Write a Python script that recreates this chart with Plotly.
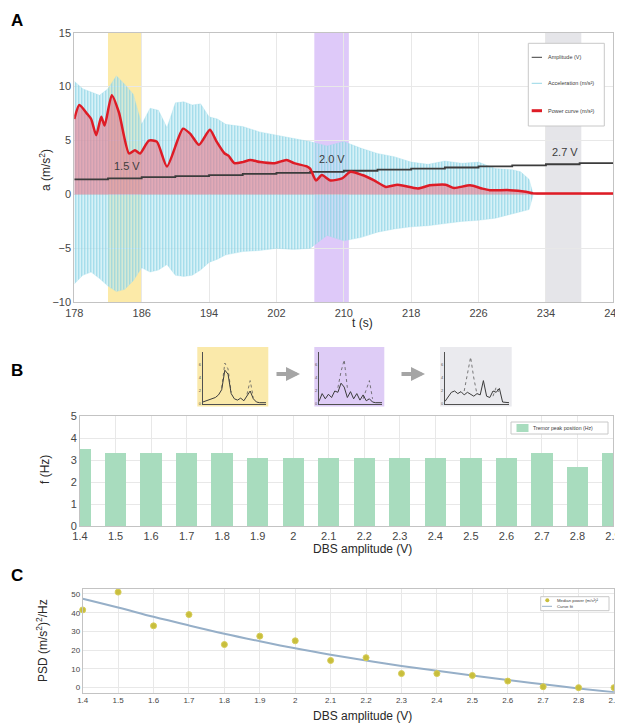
import plotly.graph_objects as go

# ---------------- Panel A data ----------------
pw_t = [178, 178.6, 179.5, 180, 180.6, 181.2, 181.6, 182.45, 183.3, 184.5, 185.2, 185.8, 186.85, 187.8, 189,
        190.9, 191.8, 192.8, 194.1, 194.9, 195.85, 196.3, 197, 198, 198.9, 200.1, 201.8, 203.2, 204.1, 205.6,
        206, 206.7, 207.4, 208.4, 209.8, 210.8, 212.2, 213.6, 215, 216.4, 218.8, 220.2, 222.1, 223.1, 225,
        226.4, 227.3, 229.7, 231.6, 232.5, 234, 242]
pw_v = [7.0, 8.3, 7.5, 7.0, 5.5, 7.2, 6.4, 9.2, 7.6, 3.8, 4.1, 3.8, 5.0, 4.9, 2.6, 6.1, 5.6, 4.6, 6.0, 4.9,
        3.8, 3.6, 2.9, 3.0, 3.2, 3.0, 2.9, 3.2, 2.9, 2.6, 2.4, 1.3, 1.8, 1.3, 1.5, 2.1, 1.8, 1.3, 0.7, 0.9,
        0.55, 0.85, 0.9, 0.6, 0.85, 0.55, 0.4, 0.4, 0.25, 0.1, 0.1, 0.1]

acc_t = [178, 179, 180, 181, 182, 183, 184, 185, 186, 187, 188, 189, 190, 191, 192, 193, 194, 195, 196,
         198, 200, 202, 204, 206, 208, 210, 212, 214, 216, 218, 220, 222, 224, 226, 228, 230, 231, 232, 232.5]
acc_upper = [10.5, 9.8, 9.5, 9.2, 9.8, 11.0, 10.2, 9.3, 6.5, 8.0, 7.8, 6.2, 8.5, 8.6, 8.3, 8.4, 7.2, 7.0, 6.5,
             6.3, 5.8, 5.5, 5.2, 4.9, 4.5, 4.9, 4.3, 3.8, 3.5, 3.0, 2.8, 3.1, 2.9, 3.0, 2.4, 2.3, 2.1, 1.4, 0]
acc_lower = [-8.3, -7.5, -7.2, -7.8, -8.5, -9.0, -8.8, -8.0, -6.8, -7.2, -7.0, -6.5, -7.5, -7.6, -7.5, -7.0, -6.3, -6.0, -5.6,
             -5.3, -5.2, -5.0, -5.1, -5.0, -3.8, -4.3, -4.0, -3.5, -3.2, -3.0, -2.9, -2.7, -2.5, -2.4, -2.2, -1.8, -1.6, -1.4, 0]

amp_t = [178, 182, 186, 190, 194, 198, 202, 206, 210, 214, 218, 222, 226, 230, 234, 238, 242]
amp_v = [1.4, 1.5, 1.6, 1.7, 1.8, 1.9, 2.0, 2.1, 2.2, 2.3, 2.4, 2.5, 2.6, 2.7, 2.8, 2.9, 2.9]

band_start = [182, 206.5, 234]
band_end = [186, 210.6, 238.2]
band_labels = ["1.5 V", "2.0 V", "2.7 V"]
band_label_t = [184.3, 208.6, 236.3]
band_label_y = [2.6, 3.3, 3.9]

# ---------------- Panel B / C data ----------------
dbs = [1.4, 1.5, 1.6, 1.7, 1.8, 1.9, 2.0, 2.1, 2.2, 2.3, 2.4, 2.5, 2.6, 2.7, 2.8, 2.9]
peak_f = [3.5, 3.3, 3.3, 3.3, 3.3, 3.1, 3.1, 3.1, 3.1, 3.1, 3.1, 3.1, 3.1, 3.3, 2.7, 3.3]
median_power = [41.5, 51, 33, 39, 23, 27.5, 25, 14.5, 16, 7.5, 7.5, 6.5, 3.5, 0.5, 0, 0]
curve_fit = [47.5, 42.8, 37.8, 33.2, 28.8, 24.8, 21.0, 17.6, 14.5, 11.6, 9.0, 6.5, 4.1, 1.8, -0.4, -2.4]

# inset spectra
ins_f = [0, 0.5, 1, 1.5, 2, 2.5, 3, 3.5, 4, 4.5, 5, 5.5, 6, 6.5, 7, 7.5, 8, 8.5, 9, 9.5, 10]
ins1_solid = [0.3, 0.5, 0.6, 0.9, 1.0, 1.4, 2.2, 5.2, 4.6, 1.6, 0.8, 0.6, 0.9, 0.5, 1.2, 2.0, 0.8, 0.3, 0.2, 0.2, 0.2]
ins1_dash = [None, None, None, None, None, None, 2.5, 6.3, 5.4, 1.8, None, None, None, None, 1.5, 3.6, 1.0, None, None, None, None]
ins2_solid = [0.4, 1.6, 0.8, 1.5, 1.0, 2.0, 1.8, 3.2, 2.6, 1.0, 1.9, 0.8, 1.6, 0.6, 1.4, 0.5, 0.8, 0.3, 0.2, 0.2, 0.2]
ins2_dash = [None, None, None, None, None, None, 2.5, 5.0, 6.8, 2.5, None, None, None, None, 0.8, 2.2, 3.6, 0.8, None, None, None]
ins3_solid = [0.4, 1.2, 1.8, 2.0, 1.6, 1.9, 1.4, 1.8, 1.5, 1.2, 1.6, 1.4, 3.6, 1.2, 1.0, 2.0, 1.8, 2.4, 0.3, 0.2, 0.2]
ins3_dash = [None, None, None, None, None, None, 2.0, 4.5, 7.2, 4.0, 1.5, None, None, None, None, 1.2, 2.6, 1.6, None, None, None]
ins_bg = ["rgb(250,233,170)", "rgb(222,204,246)", "rgb(234,234,238)"]

# legend labels
legA_labels = ["Amplitude (V)", "Acceleration (m/s²)", "Power curve (m/s²)"]
legB_label = "Tremor peak position (Hz)"
legC_labels = ["Median power (m/s²)²", "Curve fit"]

# the page body has an 8px margin: lay out in window pixels and convert
OFF = 8
W, H = 623 - OFF, 725 - OFF
def px(x): return (x - OFF) / W
def py(y): return 1 - (y - OFF) / H

FONT = "Liberation Sans, Arial, sans-serif"
TICKC = "rgb(70,70,70)"
GRID = "rgb(232,232,232)"
LINEC = "rgb(195,195,195)"
AMPC = "rgb(60,60,60)"
ACCC = "rgb(150,215,230)"
REDC = "rgb(222,28,38)"
BARC = "rgb(168,220,190)"
DOTC = "rgb(200,190,60)"
FITC = "rgb(150,175,200)"

fig = go.Figure()

# Panel A traces
acc_x = acc_t + acc_t[::-1]
acc_y = acc_upper + acc_lower[::-1]
fig.add_trace(go.Scatter(
    x=acc_x, y=acc_y, mode="lines", fill="toself",
    fillcolor="rgba(170,225,238,0.7)",
    fillpattern=dict(shape="|", fgcolor="rgba(125,205,225,0.8)", bgcolor="rgba(205,239,246,0.55)",
                     size=3, solidity=0.45),
    line=dict(color="rgba(160,222,236,0.6)", width=0.5),
    showlegend=False, xaxis="x", yaxis="y"))
fig.add_trace(go.Scatter(
    x=pw_t, y=pw_v, mode="lines", fill="tozeroy", fillcolor="rgba(236,110,130,0.55)",
    line=dict(color=REDC, width=0.1, shape="spline", smoothing=0.6),
    showlegend=False, xaxis="x", yaxis="y"))
fig.add_trace(go.Scatter(
    x=amp_t, y=amp_v, mode="lines", line=dict(color=AMPC, width=1.8, shape="hv"),
    showlegend=False, xaxis="x", yaxis="y"))
fig.add_trace(go.Scatter(
    x=pw_t, y=pw_v, mode="lines",
    line=dict(color=REDC, width=2.5, shape="spline", smoothing=0.6),
    showlegend=False, xaxis="x", yaxis="y"))

# Panel B
fig.add_trace(go.Bar(
    x=dbs, y=peak_f, width=0.06, marker=dict(color=BARC, line=dict(width=0)),
    showlegend=False, xaxis="x2", yaxis="y2"))

# Panel C
fig.add_trace(go.Scatter(
    x=dbs, y=curve_fit, mode="lines", line=dict(color=FITC, width=2, shape="spline"),
    showlegend=False, xaxis="x3", yaxis="y3"))
fig.add_trace(go.Scatter(
    x=dbs, y=median_power, mode="markers",
    marker=dict(color=DOTC, size=6, line=dict(color="rgb(215,205,90)", width=1)),
    showlegend=False, xaxis="x3", yaxis="y3", cliponaxis=False))

# insets
for i, (s, d) in enumerate([(ins1_solid, ins1_dash), (ins2_solid, ins2_dash), (ins3_solid, ins3_dash)]):
    xa, ya = f"x{4+i}", f"y{4+i}"
    fig.add_trace(go.Scatter(x=ins_f, y=d, mode="lines", line=dict(color="rgb(90,90,90)", width=0.8, dash="dot"),
                             showlegend=False, xaxis=xa, yaxis=ya, connectgaps=False))
    fig.add_trace(go.Scatter(x=ins_f, y=s, mode="lines", line=dict(color="rgb(60,60,60)", width=1),
                             showlegend=False, xaxis=xa, yaxis=ya))

shapes = []
band_cols = ["rgba(250,220,110,0.6)", "rgba(200,165,245,0.6)", "rgba(220,220,226,0.75)"]
for s0, s1, c in zip(band_start, band_end, band_cols):
    shapes.append(dict(type="rect", xref="x", yref="paper", x0=s0, x1=s1,
                       y0=py(302.3), y1=py(32.7), fillcolor=c, line=dict(width=0), layer="between"))
inset_boxes = [(197.3, 268.3), (314.3, 384.3), (440, 511.7)]
for (x0, x1), c in zip(inset_boxes, ins_bg):
    shapes.append(dict(type="rect", xref="paper", yref="paper", x0=px(x0), x1=px(x1),
                       y0=py(406.5), y1=py(347), fillcolor=c, line=dict(width=0), layer="below"))

annotations = []
LEGC = "rgb(60,60,60)"
def box(x0, x1, y0, y1):
    shapes.append(dict(type="rect", xref="paper", yref="paper", x0=px(x0), x1=px(x1), y0=py(y1), y1=py(y0),
                       fillcolor="white", line=dict(color="rgb(200,200,200)", width=1), layer="above"))
def hline(x0, x1, y, color, width):
    shapes.append(dict(type="line", xref="paper", yref="paper", x0=px(x0), x1=px(x1), y0=py(y), y1=py(y),
                       line=dict(color=color, width=width), layer="above"))
def ltext(x, y, text, size):
    annotations.append(dict(x=px(x), y=py(y), xref="paper", yref="paper", text=text, showarrow=False,
                            xanchor="left", yanchor="middle", font=dict(size=size, color=LEGC, family=FONT)))

# legend A
box(528.3, 604.3, 43.3, 126)
legA_y = [57.3, 83.3, 110.7]
legA_col = [AMPC, ACCC, REDC]
legA_w = [1, 1, 3]
for lab, yy, c, w in zip(legA_labels, legA_y, legA_col, legA_w):
    hline(531.7, 542, yy, c, w)
    ltext(546, yy, lab, 5.5)
# legend B
box(511, 608, 422, 434)
shapes.append(dict(type="rect", xref="paper", yref="paper", x0=px(516.5), x1=px(528.5), y0=py(432), y1=py(424),
                   fillcolor=BARC, line=dict(width=0), layer="above"))
ltext(530.5, 428, legB_label, 5.2)
# legend C
box(540.7, 609, 596.7, 610.7)
shapes.append(dict(type="circle", xref="paper", yref="paper", x0=px(545.3), x1=px(549.3), y0=py(602.3), y1=py(598.3),
                   fillcolor=DOTC, line=dict(width=0), layer="above"))
hline(542, 552, 606.3, FITC, 1)
ltext(555, 600.3, legC_labels[0], 4.3)
ltext(555, 606.3, legC_labels[1], 4.3)

for lab, t, yv in zip(band_labels, band_label_t, band_label_y):
    annotations.append(dict(x=t, y=yv, xref="x", yref="y", text=lab, showarrow=False,
                            font=dict(size=11, color="rgb(60,60,60)", family=FONT)))
for lab, yy in [("A", 20), ("B", 370), ("C", 575)]:
    annotations.append(dict(x=px(17), y=py(yy), xref="paper", yref="paper", text=f"<b>{lab}</b>",
                            showarrow=False, xanchor="center", yanchor="middle",
                            font=dict(size=17, color="black", family=FONT)))
for xa in [300, 425]:
    annotations.append(dict(x=px(xa), y=py(374), xref="paper", yref="paper", ax=-25, ay=0,
                            text="", showarrow=True, arrowhead=2,
                            arrowsize=0.7, arrowwidth=4, arrowcolor="rgb(165,165,165)"))

# axis titles
TITC = "rgb(40,40,40)"
def title(x, y, text, angle=0, size=12):
    annotations.append(dict(x=px(x), y=py(y), xref="paper", yref="paper", text=text, showarrow=False,
                            textangle=angle, xanchor="center", yanchor="middle",
                            font=dict(size=size, color=TITC, family=FONT)))
title(362, 323, "t (s)")
title(45, 170, "a (m/s<sup>2</sup>)", -90)
title(45, 470, "f (Hz)", -90)
title(362, 549, "DBS amplitude (V)")
title(42, 641, "PSD (m/s<sup>2</sup>)<sup>2</sup>/Hz", -90)
title(362, 716, "DBS amplitude (V)")

def main_axis(domain, rng, dtick, tick0, tickfont=11, anchor=None):
    return dict(domain=domain, range=rng, dtick=dtick, tick0=tick0, showgrid=True, gridcolor=GRID, gridwidth=1,
                showline=True, mirror=True, linecolor=LINEC, linewidth=1, zeroline=False,
                ticks="", automargin=False, ticklabeloverflow="allow",
                tickfont=dict(size=tickfont, color=TICKC, family=FONT), anchor=anchor)

layout = dict(
    template="none",
    width=W, height=H, margin=dict(l=0, r=0, t=0, b=0, autoexpand=False),
    paper_bgcolor="white", plot_bgcolor="white",
    font=dict(family=FONT), showlegend=False,
    shapes=shapes, annotations=annotations, bargap=0,
    xaxis=main_axis([px(74.3), px(613.3)], [178, 242], 8, 178, anchor="y"),
    yaxis=main_axis([py(302.3), py(32.7)], [-10, 15], 5, 0, anchor="x"),
    xaxis2=main_axis([px(80), px(613)], [1.4, 2.9], 0.1, 1.4, anchor="y2"),
    yaxis2=main_axis([py(526), py(416)], [0, 5], 1, 0, anchor="x2"),
    xaxis3=main_axis([px(82.7), px(614)], [1.4, 2.9], 0.1, 1.4, tickfont=8, anchor="y3"),
    yaxis3=main_axis([py(692.7), py(589.3)], [-2.7, 52.5], 10, 0, tickfont=8, anchor="x3"),
)

inset_dom = [(202.7, 266), (319, 382), (445, 509)]
for i, (x0, x1) in enumerate(inset_dom):
    n = 4 + i
    layout[f"xaxis{n}"] = dict(domain=[px(x0), px(x1)], range=[0, 10], showgrid=False, zeroline=False,
                               showline=True, linecolor="rgb(80,80,80)", linewidth=1, showticklabels=False,
                               ticks="", anchor=f"y{n}", automargin=False)
    layout[f"yaxis{n}"] = dict(domain=[py(404), py(352)], range=[0, 8], showgrid=False, zeroline=False,
                               showline=True, linecolor="rgb(80,80,80)", linewidth=1, showticklabels=True,
                               tickvals=[0, 2, 4, 6], ticks="", tickfont=dict(size=4, color="rgb(80,80,80)"),
                               anchor=f"x{n}", automargin=False)

fig.update_layout(**layout)
fig.write_html("out.html")
